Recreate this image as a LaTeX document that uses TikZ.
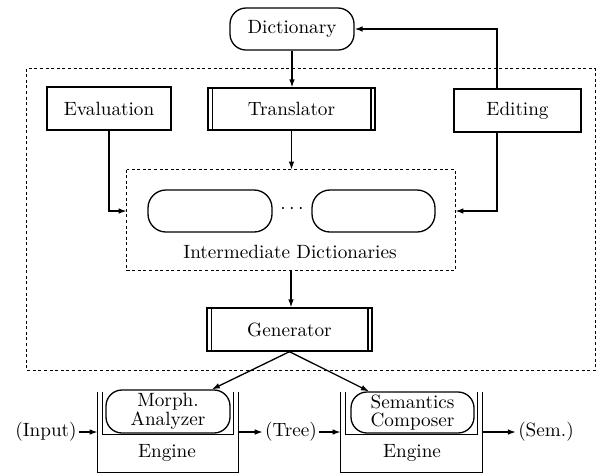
\documentclass[tikz,border=0pt]{standalone}
\usetikzlibrary{arrows.meta,calc}
\begin{document}
\begin{tikzpicture}[x=0.5pt,y=-0.5pt,
  lw/.style={line width=0.65pt},
  conn/.style={lw,-{Latex[length=4pt,width=2.8pt]}},
  dotbox/.style={line width=0.8pt,dash pattern=on 1.5pt off 1.3pt},
  plainbox/.style={draw,lw,rectangle,inner sep=0pt,font=\fontsize{9.6}{11}\selectfont},
  roundbox/.style={draw,lw,rectangle,rounded corners=8pt,inner sep=0pt,align=center,font=\fontsize{9.6}{8.6}\selectfont},
  label/.style={inner sep=1pt,font=\fontsize{9.6}{11}\selectfont},
  ghost/.style={rectangle,inner sep=0pt}]
\useasboundingbox (0,0) rectangle (598,473);
% outer dashed region
\node[ghost,minimum width=284pt,minimum height=150.5pt] (outer) at (311,219.5) {};
\draw[dotbox] (outer.north west) rectangle (outer.south east);
% top boxes
\node[roundbox,minimum width=62pt,minimum height=21pt] (dict) at (292,29) {Dictionary};
\node[plainbox,minimum width=62pt,minimum height=21.5pt] (eval) at (109,108.5) {Evaluation};
\node[plainbox,minimum width=83.5pt,minimum height=21pt] (trans) at (291.5,109) {Translator};
\node[plainbox,minimum width=63.5pt,minimum height=21.5pt] (edit) at (517.5,110.5) {Editing};
\draw[lw] ($(trans.north west)+(5,0)$) -- ($(trans.south west)+(5,0)$);
\draw[line width=1.1pt] ($(trans.north east)+(-5,0)$) -- ($(trans.south east)+(-5,0)$);
% intermediate dictionaries
\node[ghost,minimum width=164pt,minimum height=50pt] (idict) at (291,220) {};
\draw[dotbox] (idict.north west) rectangle (idict.south east);
\node[roundbox,rounded corners=9pt,minimum width=62pt,minimum height=21pt] (ld) at (210,211) {};
\node[roundbox,rounded corners=9pt,minimum width=61.5pt,minimum height=21pt] (rd) at (373.5,211) {};
\node[label] (dots) at (292,209) {$\cdots$};
\node[label] (idlab) at (290,252) {Intermediate Dictionaries};
% generator
\node[plainbox,minimum width=82.5pt,minimum height=21.5pt] (gen) at (289.5,329.5) {Generator};
\draw[lw] ($(gen.north west)+(5,0)$) -- ($(gen.south west)+(5,0)$);
\draw[line width=1.1pt] ($(gen.north east)+(-5,0)$) -- ($(gen.south east)+(-5,0)$);
% engines
\node[ghost,minimum width=70pt,minimum height=40pt] (eng1) at (168,432) {};
\draw[lw] (eng1.north west) -- (eng1.south west) -- (eng1.south east) -- (eng1.north east);
\draw[lw] ($(eng1.north west)+(5,0)$) -- ($(eng1.north west)+(5,43)$) -- ($(eng1.north east)+(-5,43)$) -- ($(eng1.north east)+(-5,0)$);
\node[roundbox,minimum width=62pt,minimum height=21.5pt] (morph) at (168,411.5) {Morph.\\Analyzer};
\node[label] (e1lab) at (167,453) {Engine};
\node[ghost,minimum width=70.5pt,minimum height=40pt] (eng2) at (411.5,432) {};
\draw[lw] (eng2.north west) -- (eng2.south west) -- (eng2.south east) -- (eng2.north east);
\draw[lw] ($(eng2.north west)+(5,0)$) -- ($(eng2.north west)+(5,43)$) -- ($(eng2.north east)+(-5,43)$) -- ($(eng2.north east)+(-5,0)$);
\node[roundbox,minimum width=61.5pt,minimum height=20.5pt] (sem) at (412.5,412.5) {Semantics\\Composer};
\node[label] (e2lab) at (412,453) {Engine};
\node[label] (input) at (46,432) {(Input)};
\node[label] (tree) at (291,432) {(Tree)};
\node[label] (semout) at (546,432) {(Sem.)};
% connectors
\draw[conn] (dict.south) -- (dict.south |- trans.north);
\draw[conn] (trans.south) -- (trans.south |- idict.north);
\draw[conn] (eval.south) |- (idict.west |- ld.west);
\draw[conn] ($(edit.south west)!0.34!(edit.south east)$) |- (idict.east |- rd.east);
\draw[conn] ($(edit.north west)!0.34!(edit.north east)$) |- (dict.east);
\draw[conn] (idict.south) -- (idict.south |- gen.north);
\draw[conn] (gen.south) -- ($(morph.north)!0.7!(morph.north east)$);
\draw[conn] (gen.south) -- ($(sem.north)!0.7!(sem.north west)$);
\draw[conn] (input.east) -- (eng1.west);
\draw[conn] (eng1.east) -- (tree.west);
\draw[conn] (tree.east) -- (eng2.west);
\draw[conn] (eng2.east) -- (semout.west);
\end{tikzpicture}
\end{document}
